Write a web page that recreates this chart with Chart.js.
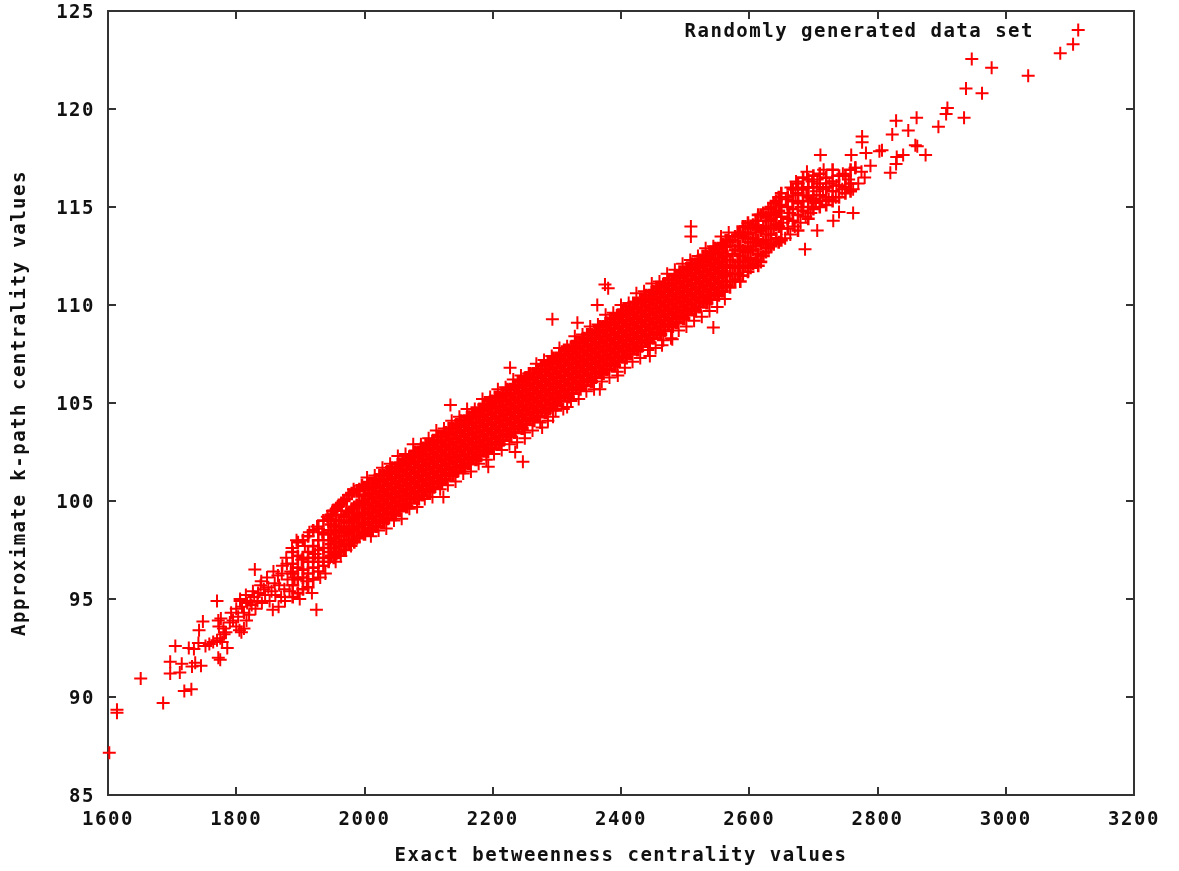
<!DOCTYPE html>
<html><head><meta charset="utf-8">
<style>html,body{margin:0;padding:0;background:#fff}canvas{display:block}</style>
<script src="https://cdn.jsdelivr.net/npm/chart.js@4/dist/chart.umd.min.js"></script>
</head><body><canvas id="c" width="1179" height="871" style="width:1179px;height:871px"></canvas>
<script>
const xTitle = "Exact betweenness centrality values";
const yTitle = "Approximate k-path centrality values";
const note = "Randomly generated data set";
const xTicks = [1600,1800,2000,2200,2400,2600,2800,3000,3200];
const yTicks = [85,90,95,100,105,110,115,120,125];

// individually readable points: both tails and points outside the solid band
const scatterExact = [3113,3105,3085,3035,2978,2947,2963,2938,2935,2909,2907,2895,2861,2829,2848,2823,2776,2776,2859,2862,2875,2807,2803,2782,2759,2711,2840,2830,2829,2820,2789,2766,2780,2762,2687,2706,2731,2740,
1602,1614,1614,1651,1686,1719,1730,1697,1697,1712,1715,1731,1745,1736,1705,1726,1734,1741,1742,1748,1772,1775,1786,
1752,1758,1764,1770,1775,1778,1781,1773,1772,1770,1776,1780,1784,1790,1795,1792,1800,1805,1808,1812,1800,1806,1812,1816,1820,1824,1806,1815,1822,1830,1828,1834,1840,1838,1829,1857,1866,1870,1855,1860,1865,1850,1845,1875,1880,1872,1878,1885,1925,
2134,2227,2293,2332,2363,2380,2123,2193,2235,2250,2247,2277,2294,2316,2367,2395,2445,2464,2480,2544,2509,2509,2375];
const scatterApprox = [124.03,123.3,122.85,121.7,122.1,122.55,120.8,121.05,119.55,120.05,119.75,119.1,119.55,119.4,118.9,118.7,118.6,118.3,118.15,118.1,117.65,117.9,117.85,117.75,117.65,117.65,117.65,117.55,117.2,116.75,117.1,117.0,116.5,114.7,112.85,113.8,114.3,114.75,
87.15,89.35,89.2,90.95,89.7,90.3,90.4,91.2,91.8,91.25,91.7,91.55,91.6,91.75,92.6,92.5,92.45,92.75,93.4,93.85,92.0,91.9,92.5,
92.6,92.7,92.8,92.9,93.0,92.8,93.2,93.6,93.9,94.9,94.0,93.5,93.3,93.8,93.9,94.3,93.6,93.4,93.3,93.5,94.5,94.9,94.3,93.9,94.2,94.7,95.0,95.2,94.9,94.5,95.1,95.3,94.8,95.7,96.5,94.45,94.6,95.1,95.4,95.8,96.2,95.6,95.2,95.5,96.0,96.7,97.1,96.4,94.45,
104.9,106.8,109.27,109.1,110.0,110.85,100.2,101.75,102.5,103.2,102.0,103.75,104.3,104.8,105.7,106.4,107.4,107.95,108.25,108.85,114.0,113.5,111.05];

// loose crosses filling the lower and upper stretches of the band
const looseExact = [1803,1809,1817,1826,1833,1839,1843,1848,1852,1858,1861,1867,1871,1876,1879,1883,1887,1891,1894,1899,1902,1907,1910,1914,1918,1923,1926,1931,1934,1939,1942,1946,1950,1955,1958,1963,1967,1971,1975,1979,1983,
2653,2656,2657,2663,2664,2665,2671,2672,2673,2680,2681,2682,2688,2689,2690,2696,2697,2698,2704,2705,2706,2714,2715,2716,2724,2725,2735,2736,2745,2746,2755,2762,2765,2770,2775];
const looseApprox = [94.1,94.6,94.8,95.4,94.9,95.9,95.5,96.1,94.9,96.4,95.2,95.7,96.3,94.9,96.8,95.4,97.6,96.1,98.0,95.0,97.0,97.7,95.9,98.4,95.3,97.3,98.7,96.1,98.4,96.3,99.2,97.1,99.5,96.9,99.7,97.2,100.0,97.5,100.3,97.7,100.6,
114.2,113.4,115.4,114.7,113.6,116.0,114.0,115.6,116.3,114.2,115.0,116.0,114.5,115.6,116.8,114.7,115.3,116.3,115.2,115.8,116.4,115.3,115.9,116.9,115.4,116.2,115.5,116.1,115.9,116.7,116.4,115.9,117.0,116.2,116.8];

// crosses along the upper and lower rim of the solid band
const rimExact = [2004,2016,2028,2040,2052,2064,2076,2088,2100,2112,2124,2136,2148,2160,2172,2184,2196,2208,2220,2232,2244,2256,2268,2280,2292,2304,2316,2328,2340,2352,2364,2376,2388,2400,2412,2424,2436,2448,2460,2472,2484,2496,2508,2520,2532,2544,2556,2568,
2010,2022,2034,2046,2058,2070,2082,2094,2106,2118,2130,2142,2154,2166,2178,2190,2202,2214,2226,2238,2250,2262,2274,2286,2298,2310,2322,2334,2346,2358,2370,2382,2394,2406,2418,2430,2442,2454,2466,2478,2490,2502,2514,2526,2538,2550,2562];
const rimApprox = [101.2,101.3,101.7,101.9,102.3,102.4,102.9,102.9,103.2,103.6,103.7,104.1,104.3,104.7,104.7,105.2,105.3,105.7,105.8,106.2,106.4,106.5,107.0,107.2,107.4,107.8,107.9,108.4,108.5,108.9,109.0,109.5,109.6,110.0,110.1,110.6,110.7,111.1,111.2,111.6,111.8,112.1,112.3,112.5,112.9,113.0,113.5,113.7,
98.2,98.5,98.6,99.0,99.1,99.6,99.7,100.1,100.2,100.6,100.8,101.0,101.4,101.5,101.9,102.1,102.4,102.6,102.9,103.0,103.5,103.6,104.0,104.1,104.6,104.7,105.1,105.2,105.6,105.7,106.1,106.3,106.6,106.8,107.1,107.3,107.7,107.8,108.2,108.3,108.7,108.9,109.2,109.4,109.7,109.9,110.3];

// sparser lower stretch of the band
const lowExact = [1888,1896,1904,1912,1920,1928,1936,1944,1948,1952,1956,1960,1964,1968,1972,1976,1980,1984,1988,1992,1996];
const lowApprox = [[95.1,95.7,96.3,96.8,97.4],[95.3,96.0,96.6,97.2,97.9],[95.5,96.1,96.5,97.1,98.0],[95.6,96.3,96.9,97.4,98.2],[96.0,96.6,97.1,97.7,98.5],[96.4,96.9,97.5,98.0,98.6],[96.7,97.1,97.6,98.3,99.0],[96.9,97.4,98.0,98.5,99.1],[97.2,97.8,98.3,98.8,99.3],[97.1,97.6,98.1,98.7,99.5],[97.3,97.9,98.4,99.0,99.6],[97.4,97.9,98.5,99.0,99.8],[97.7,98.2,98.7,99.3,99.9],[97.5,98.0,98.6,99.2,100.0],[97.8,98.4,98.9,99.5,100.1],[97.8,98.3,98.9,99.4,100.3],[98.0,98.5,99.0,99.6,100.4],[97.9,98.6,99.1,99.7,100.5],[98.1,98.7,99.2,99.8,100.5],[98.2,98.7,99.3,99.9,100.6],[98.4,98.9,99.4,100.0,100.8]];

// solid middle of the band (individual crosses cannot be told apart here)
const midExact = [2000,2006,2012,2018,2024,2030,2036,2042,2048,2054,2060,2066,2072,2078,2084,2090,2096,2102,2108,2114,2120,2126,2132,2138,2144,2150,2156,2162,2168,2174,2180,2186,2192,2198,2204,2210,2216,2222,2228,2234,2240,2246,2252,2258,2264,2270,2276,2282,2288,2294,2300,2306,2312,2318,2324,2330,2336,2342,2348,2354,2360,2366,2372,2378,2384,2390,2396,2402,2408,2414,2420,2426,2432,2438,2444,2450,2456,2462,2468,2474,2480,2486,2492,2498,2504,2510,2516,2522,2528,2534,2540,2546,2552,2558,2564];
const midApprox = [
[98.3,98.8,99.3,99.8,100.3,100.7],[98.6,99.1,99.6,100.1,100.6,100.9],[98.5,98.9,99.4,99.9,100.4,100.9],
[98.7,99.2,99.7,100.2,100.7,101.1],[99.0,99.5,100.0,100.5,101.0,101.3],[98.9,99.3,99.8,100.3,100.8,101.3],
[99.1,99.6,100.1,100.6,101.1,101.5],[99.4,99.9,100.4,100.9,101.4,101.7],[99.3,99.7,100.2,100.7,101.2,101.7],
[99.5,100.0,100.5,101.0,101.5,101.9],[99.8,100.3,100.8,101.3,101.8,102.1],[99.7,100.1,100.6,101.1,101.6,102.1],
[99.9,100.4,100.9,101.4,101.9,102.3],[100.2,100.7,101.2,101.7,102.2,102.5],[100.1,100.5,101.0,101.5,102.0,102.5],
[100.3,100.8,101.3,101.8,102.3,102.7],[100.6,101.1,101.6,102.1,102.6,102.9],[100.5,100.9,101.4,101.9,102.4,102.9],
[100.7,101.2,101.7,102.2,102.7,103.1],[101.0,101.5,102.0,102.5,103.0,103.3],[100.9,101.3,101.8,102.3,102.8,103.3],
[101.1,101.6,102.1,102.6,103.1,103.5],[101.4,101.9,102.4,102.9,103.4,103.7],[101.3,101.7,102.2,102.7,103.2,103.7],
[101.5,102.0,102.5,103.0,103.5,103.9],[101.8,102.3,102.8,103.3,103.8,104.1],[101.7,102.1,102.6,103.1,103.6,104.1],
[101.9,102.4,102.9,103.4,103.9,104.3],[102.2,102.7,103.2,103.7,104.2,104.5],[102.1,102.5,103.0,103.5,104.0,104.5],
[102.3,102.8,103.3,103.8,104.3,104.7],[102.6,103.1,103.6,104.1,104.6,104.9],[102.5,102.9,103.4,103.9,104.4,104.9],
[102.7,103.2,103.7,104.2,104.7,105.1],[103.0,103.5,104.0,104.5,105.0,105.3],[102.9,103.3,103.8,104.3,104.8,105.3],
[103.1,103.6,104.1,104.6,105.1,105.5],[103.4,103.9,104.4,104.9,105.4,105.7],[103.3,103.7,104.2,104.7,105.2,105.7],
[103.5,104.0,104.5,105.0,105.5,105.9],[103.8,104.3,104.8,105.3,105.8,106.1],[103.7,104.1,104.6,105.1,105.6,106.1],
[103.9,104.4,104.9,105.4,105.9,106.3],[104.2,104.7,105.2,105.7,106.2,106.5],[104.1,104.5,105.0,105.5,106.0,106.5],
[104.3,104.8,105.3,105.8,106.3,106.7],[104.6,105.1,105.6,106.1,106.6,106.9],[104.5,104.9,105.4,105.9,106.4,106.9],
[104.7,105.2,105.7,106.2,106.7,107.1],[105.0,105.5,106.0,106.5,107.0,107.3],[104.9,105.3,105.8,106.3,106.8,107.3],
[105.1,105.6,106.1,106.6,107.1,107.5],[105.4,105.9,106.4,106.9,107.4,107.7],[105.3,105.7,106.2,106.7,107.2,107.7],
[105.5,106.0,106.5,107.0,107.5,107.9],[105.8,106.3,106.8,107.3,107.8,108.1],[105.7,106.1,106.6,107.1,107.6,108.1],
[105.9,106.4,106.9,107.4,107.9,108.3],[106.2,106.7,107.2,107.7,108.2,108.5],[106.1,106.5,107.0,107.5,108.0,108.5],
[106.3,106.8,107.3,107.8,108.3,108.7],[106.6,107.1,107.6,108.1,108.6,108.9],[106.5,106.9,107.4,107.9,108.4,108.9],
[106.7,107.2,107.7,108.2,108.7,109.1],[107.0,107.5,108.0,108.5,109.0,109.3],[106.9,107.3,107.8,108.3,108.8,109.3],
[107.1,107.6,108.1,108.6,109.1,109.5],[107.4,107.9,108.4,108.9,109.4,109.7],[107.3,107.7,108.2,108.7,109.2,109.7],
[107.5,108.0,108.5,109.0,109.5,109.9],[107.8,108.3,108.8,109.3,109.8,110.1],[107.7,108.1,108.6,109.1,109.6,110.1],
[107.9,108.4,108.9,109.4,109.9,110.3],[108.2,108.7,109.2,109.7,110.2,110.5],[108.1,108.5,109.0,109.5,110.0,110.5],
[108.3,108.8,109.3,109.8,110.3,110.7],[108.6,109.1,109.6,110.1,110.6,110.9],[108.5,108.9,109.4,109.9,110.4,110.9],
[108.7,109.2,109.7,110.2,110.7,111.1],[109.0,109.5,110.0,110.5,111.0,111.3],[108.9,109.3,109.8,110.3,110.8,111.3],
[109.1,109.6,110.1,110.6,111.1,111.5],[109.4,109.9,110.4,110.9,111.4,111.7],[109.3,109.7,110.2,110.7,111.2,111.7],
[109.5,110.0,110.5,111.0,111.5,111.9],[109.8,110.3,110.8,111.3,111.8,112.1],[109.7,110.1,110.6,111.1,111.6,112.1],
[109.9,110.4,110.9,111.4,111.9,112.3],[110.2,110.7,111.2,111.7,112.2,112.5],[110.1,110.5,111.0,111.5,112.0,112.5],
[110.3,110.8,111.3,111.8,112.3,112.7],[110.6,111.1,111.6,112.1,112.6,112.9],[110.5,110.9,111.4,111.9,112.4,112.9],
[110.7,111.2,111.7,112.2,112.7,113.1],[111.0,111.5,112.0,112.5,113.0,113.3]];

// thinning upper stretch of the band
const highExact = [2570,2574,2578,2582,2586,2590,2594,2598,2602,2606,2610,2614,2618,2622,2626,2630,2634,2638,2642,2646,2650,2660,2668,2676,2684,2692,2700,2710,2720,2730,2740,2750,2758];
const highApprox = [[110.9,111.6,112.3,113.2],[111.2,111.9,112.6,113.3],[111.3,112.0,112.8,113.5],[111.6,112.2,113.0,113.6],[111.2,111.9,112.5,113.0,113.7],[111.5,112.2,112.8,113.5,114.0],[112.0,112.7,113.4,114.0],[111.7,112.3,112.9,113.6,114.2],[111.9,112.4,113.2,113.9],[112.1,112.8,113.4,114.1],[112.3,113.0,113.7,114.3],[112.0,112.6,113.3,114.0,114.6],[112.2,113.1,113.8,114.6],[112.5,113.2,113.9,114.7],[112.7,113.3,114.0,114.5],[112.9,113.6,114.3,114.9],[113.0,113.6,114.4,115.0],[113.1,113.9,114.6,115.2],[113.4,114.1,114.7,115.3],[113.2,114.0,114.8,115.5],[113.3,113.9,114.5,115.1,115.7],[113.9,114.4,115.0,115.5],[114.3,114.9,115.3,115.9],[113.8,114.6,115.2,115.7,116.2],[114.8,115.3,115.9,116.5],[114.4,115.0,115.5,116.0,116.4],[114.9,115.4,116.0,116.6],[115.0,115.6,116.2,116.7],[115.1,115.5,116.0,116.5],[115.3,115.8,116.3,116.9],[115.5,116.1,116.6],[115.7,116.0,116.6],[115.8,116.2,116.9]];

const pairs = (xs,ys)=>xs.map((x,i)=>({x,y:ys[i]}));
const columns = (xs,ys)=>xs.flatMap((x,i)=>ys[i].map(y=>({x,y})));

const FONT = {family:'"DejaVu Sans Mono"',size:19,weight:'bold'};
const INK = '#111', FRAME = '#333', RED = '#ff0000';
const noOverhang = s=>{s.paddingTop=0;s.paddingBottom=0;s.paddingLeft=0;s.paddingRight=0;};
function axisOpts(vals,extra){
  return Object.assign({type:'linear',min:vals[0],max:vals[vals.length-1],
    afterBuildTicks:s=>{s.ticks=vals.map(v=>({value:v}));},
    border:{display:true,color:FRAME,width:2},
    grid:{drawOnChartArea:false,drawTicks:true,tickLength:-8,color:FRAME,lineWidth:2}},extra);
}
const series = (data,w)=>({data,pointStyle:'cross',pointRadius:6.5,pointBorderWidth:w,borderColor:RED,backgroundColor:RED,clip:false});
const notePlugin = {
  id:'note',
  beforeDraw(c){c.ctx.letterSpacing='1.5px';},
  afterDraw(c){
    const ctx=c.ctx;ctx.save();ctx.font='bold 19px "DejaVu Sans Mono"';ctx.fillStyle=INK;ctx.textAlign='right';ctx.textBaseline='middle';
    ctx.fillText(note,c.scales.x.getPixelForValue(3044),c.scales.y.getPixelForValue(123.9));ctx.restore();
  }
};
const plain = v=>String(v);
new Chart(document.getElementById('c'),{
  type:'scatter',
  data:{datasets:[
    series(columns(midExact,midApprox),3.6),
    series(columns(lowExact,lowApprox),2.6),
    series(columns(highExact,highApprox),2.6),
    series(pairs(looseExact,looseApprox),2),
    series(pairs(rimExact,rimApprox),2),
    series(pairs(scatterExact,scatterApprox),2)
  ]},
  plugins:[notePlugin],
  options:{responsive:false,animation:false,
    layout:{autoPadding:false,padding:{top:11,right:45,left:0,bottom:0}},
    plugins:{legend:{display:false},tooltip:{enabled:false}},
    scales:{
      x:axisOpts(xTicks,{position:'bottom',
        afterFit:s=>{s.height=76;noOverhang(s);},
        ticks:{padding:22,font:FONT,color:INK,maxRotation:0,autoSkip:false,callback:plain},
        title:{display:true,text:xTitle,font:FONT,color:INK,padding:{top:0,bottom:4}}}),
      y:axisOpts(yTicks,{position:'left',
        afterFit:s=>{s.width=108;noOverhang(s);},
        ticks:{padding:21,labelOffset:2,font:FONT,color:INK,autoSkip:false,callback:plain},
        title:{display:true,text:yTitle,font:FONT,color:INK,padding:{top:9,bottom:0}}}),
      x2:axisOpts(xTicks,{position:'top',afterFit:s=>{s.height=0;noOverhang(s);},ticks:{display:false}}),
      y2:axisOpts(yTicks,{position:'right',afterFit:s=>{s.width=0;noOverhang(s);},ticks:{display:false}})
    }
  }
});
</script></body></html>
